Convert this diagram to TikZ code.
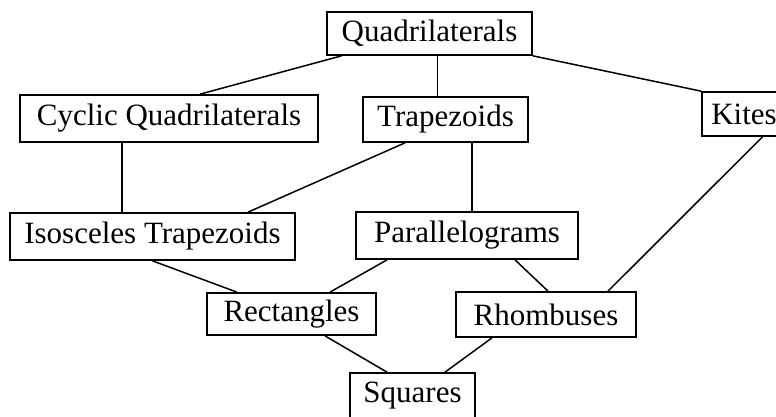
\documentclass[tikz,border=0pt]{standalone}
\usepackage{fontspec}
\setmainfont{Liberation Serif}
\usepackage{tikz}
\usetikzlibrary{positioning}

\begin{document}
\begin{tikzpicture}[x=1pt, y=-1pt,
	box/.style={draw, line width=1.7pt, inner sep=0pt, align=center, font=\fontsize{31}{36}\selectfont},
	link/.style={line width=1.5pt}]
			\useasboundingbox (0,0) rectangle (776,416);
			%% top row
			\node[box, minimum width=205pt, minimum height=43pt] (quad) at (429.5,33.5) {Quadrilaterals};
			%% second row
			\node[box, minimum width=298pt, minimum height=47pt] (cyclic) at (169,118.5) {Cyclic Quadrilaterals};
			\node[box, minimum width=165pt, minimum height=45pt] (trap) at (445.5,119.5) {Trapezoids};
			\node[box, minimum width=84pt, minimum height=44pt] (kites) at (744,114) {Kites};
			%% third row
			\node[box, minimum width=285pt, minimum height=47pt] (isotrap) at (152.5,236.5) {Isosceles Trapezoids};
			\node[box, minimum width=222pt, minimum height=47pt] (para) at (467,235.5) {Parallelograms};
			%% fourth row
			\node[box, minimum width=169pt, minimum height=42pt] (rect) at (291.5,314) {Rectangles};
			\node[box, minimum width=180pt, minimum height=45pt] (rhomb) at (546,314.5) {Rhombuses};
			%% bottom
			\node[box, minimum width=125pt, minimum height=46pt] (sq) at (412.5,396) {Squares};
			
			\draw[link] ([xshift=-88pt]quad.south) -- ([xshift=31pt]cyclic.north);
			\draw[link] ([xshift=8pt]quad.south) -- ([xshift=-8pt]trap.north);
			\draw[link] (quad.south east) -- (kites.north west);
			\draw[link] ([xshift=-47pt]cyclic.south) -- ([xshift=-30.5pt]isotrap.north);
			\draw[link] ([xshift=-40.5pt]trap.south) -- ([xshift=95.5pt]isotrap.north);
			\draw[link] ([xshift=26.5pt]trap.south) -- ([xshift=5pt]para.north);
			\draw[link] ([xshift=18.5pt]kites.south) -- ([xshift=62pt]rhomb.north);
			\draw[link] (isotrap.south) -- ([xshift=-54.5pt]rect.north);
			\draw[link] ([xshift=-80pt]para.south) -- ([xshift=38.5pt]rect.north);
			\draw[link] ([xshift=48pt]para.south) -- ([xshift=2pt]rhomb.north);
			\draw[link] ([xshift=33.5pt]rect.south) -- ([xshift=-25.5pt]sq.north);
			\draw[link] ([xshift=-54pt]rhomb.south) -- ([xshift=32.5pt]sq.north);
\end{tikzpicture}
\end{document}
